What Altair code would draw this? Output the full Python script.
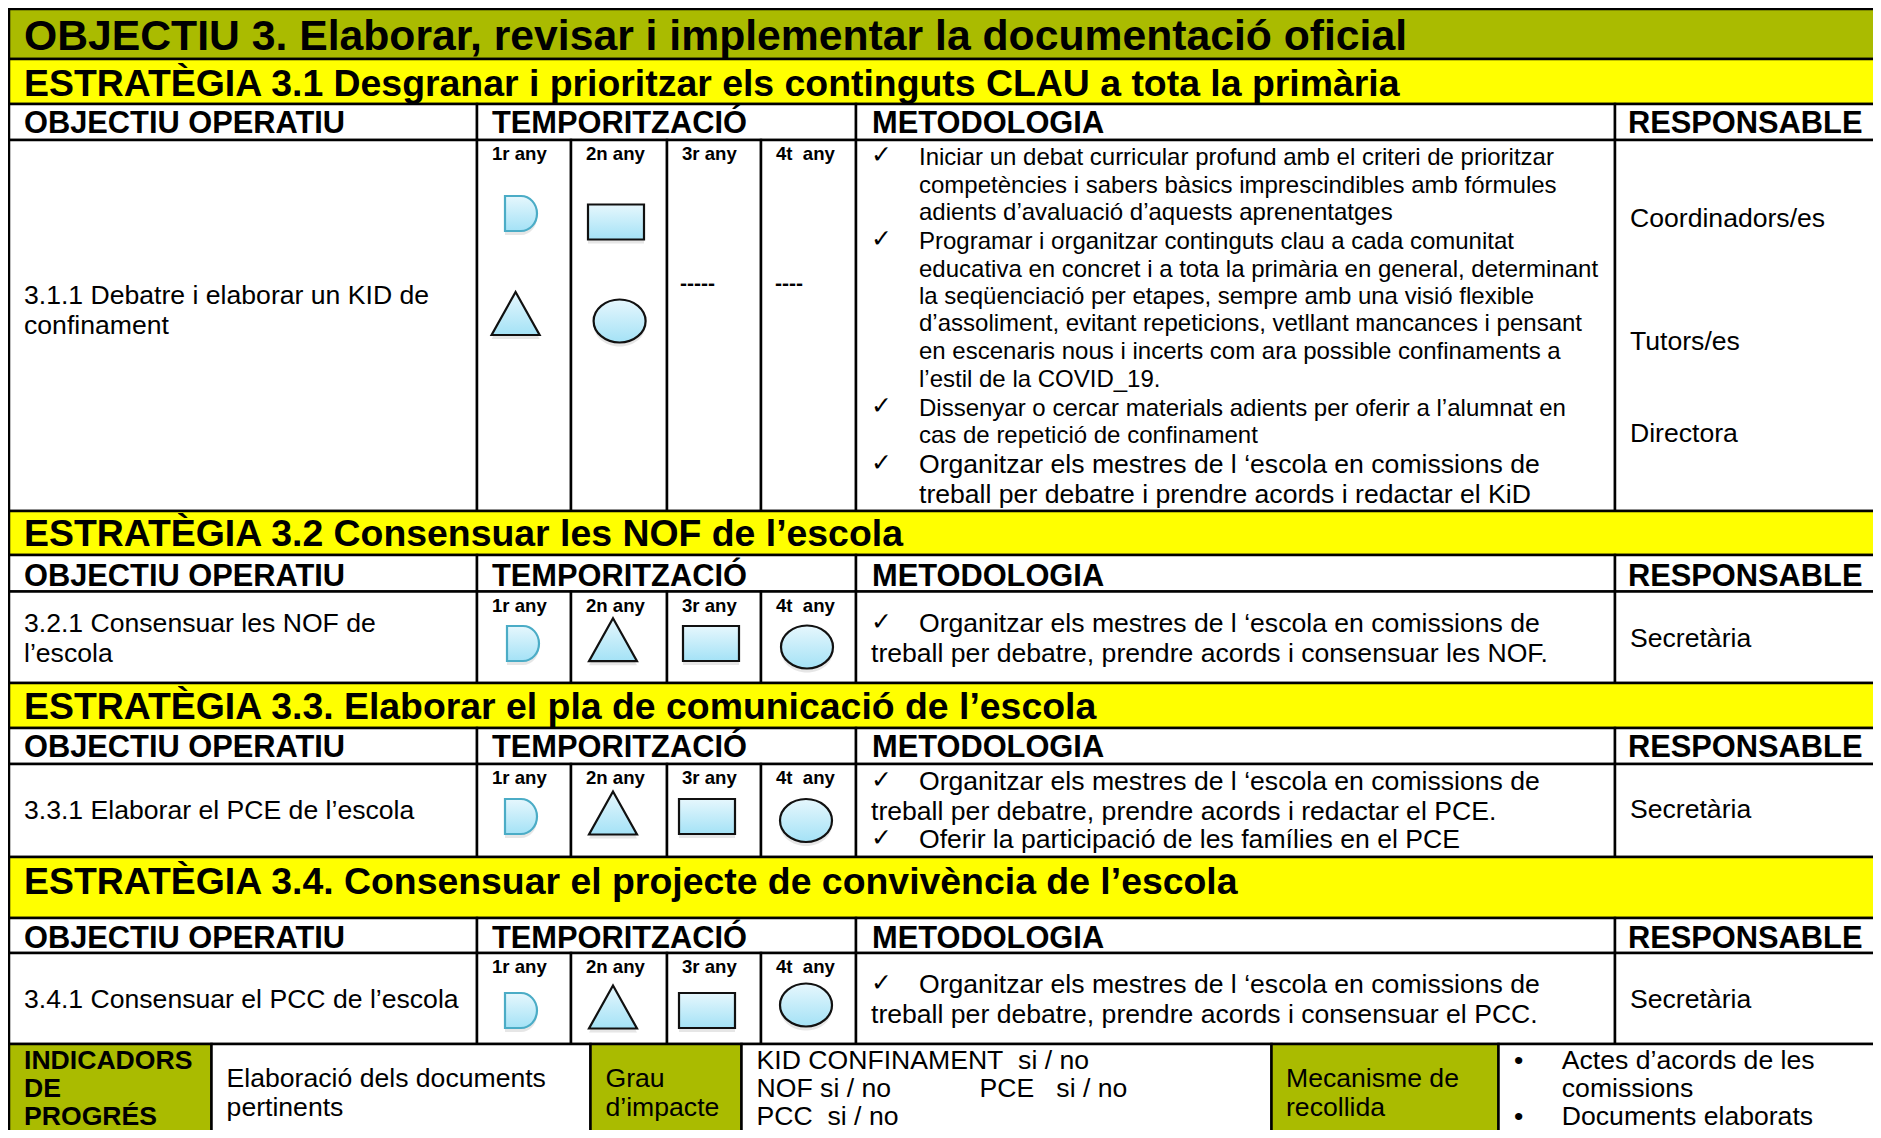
import altair as alt
import pandas as pd

NB = "\u00a0"

# ---------------- content ----------------
TITLE = "OBJECTIU 3. Elaborar, revisar i implementar la documentació oficial"
STRATEGIES = [
    "ESTRATÈGIA 3.1 Desgranar i prioritzar els continguts CLAU a tota la primària",
    "ESTRATÈGIA 3.2 Consensuar les NOF de l’escola",
    "ESTRATÈGIA 3.3. Elaborar el pla de comunicació de l’escola",
    "ESTRATÈGIA 3.4. Consensuar el projecte de convivència de l’escola",
]
HEADERS = ["OBJECTIU OPERATIU", "TEMPORITZACIÓ", "METODOLOGIA", "RESPONSABLE"]
YEARS = ["1r any", "2n any", "3r any", "4t" + NB + NB + "any"]
OBJECTIVES = [
    ["3.1.1 Debatre i elaborar un KID de", "confinament"],
    ["3.2.1 Consensuar les NOF de", "l’escola"],
    ["3.3.1 Elaborar el PCE de l’escola"],
    ["3.4.1 Consensuar el PCC de l’escola"],
]
# (text, starts with a check mark, large font)
METHOD_311 = [
    ("Iniciar un debat curricular profund amb el criteri de prioritzar", True, False),
    ("competències i sabers bàsics imprescindibles amb fórmules", False, False),
    ("adients d’avaluació d’aquests aprenentatges", False, False),
    ("Programar i organitzar continguts clau a cada comunitat", True, False),
    ("educativa en concret i a tota la primària en general, determinant", False, False),
    ("la seqüenciació per etapes, sempre amb una visió flexible", False, False),
    ("d’assoliment, evitant repeticions, vetllant mancances i pensant", False, False),
    ("en escenaris nous i incerts com ara possible confinaments a", False, False),
    ("l’estil de la COVID_19.", False, False),
    ("Dissenyar o cercar materials adients per oferir a l’alumnat en", True, False),
    ("cas de repetició de confinament", False, False),
    ("Organitzar els mestres de l ‘escola en comissions de", True, True),
    ("treball per debatre i prendre acords i redactar el KiD", False, True),
]
METHOD_321 = [
    ("Organitzar els mestres de l ‘escola en comissions de", True),
    ("treball per debatre, prendre acords i consensuar les NOF.", False),
]
METHOD_331 = [
    ("Organitzar els mestres de l ‘escola en comissions de", True),
    ("treball per debatre, prendre acords i redactar el PCE.", False),
    ("Oferir la participació de les famílies en el PCE", True),
]
METHOD_341 = [
    ("Organitzar els mestres de l ‘escola en comissions de", True),
    ("treball per debatre, prendre acords i consensuar el PCC.", False),
]
RESP_311 = ["Coordinadors/es", "Tutors/es", "Directora"]
RESP_OTHER = ["Secretària", "Secretària", "Secretària"]
SCHED_311 = ["D", "tri", "rect", "ell"]
SCHED_311_DASH = ["-----", "----"]
SCHED_OTHER = ["D", "tri", "rect", "ell"]
IND_LABEL = ["INDICADORS", "DE", "PROGRÉS"]
IND_TEXT = ["Elaboració dels documents", "pertinents"]
IMPACT_LABEL = ["Grau", "d’impacte"]
IMPACT_TEXT = ["KID CONFINAMENT" + NB + NB + "si / no", "NOF si / no", "PCC" + NB + NB + "si / no"]
IMPACT_TEXT2 = "PCE" + NB + NB + NB + "si / no"
MECH_LABEL = ["Mecanisme de", "recollida"]
MECH_TEXT = ["Actes d’acords de les", "comissions", "Documents elaborats"]

# ---------------- layout (page pixels) ----------------
W, H = 1865, 1122
OLIVE = "#AABB00"
YELLOW = "#FFFF00"
FONT = "Liberation Sans"
F_TITLE, F_STRAT, F_HEAD, F_BODY, F_METH, F_YEAR = 42.7, 37.4, 30.8, 26.6, 24.0, 18.6
ROW_EDGES = [9, 59, 104, 140, 511, 555, 591.5, 683, 728, 764, 857, 918, 953, 1044, 1170]
ROW_KINDS = ["title", "strat", "head", "body", "strat", "head", "body",
             "strat", "head", "body", "strat", "head", "body", "ind"]
COL_EDGES = [9, 477, 571, 667, 761, 856, 1615, 1900]
IND_EDGES = [9, 211.5, 590.5, 741.5, 1271.5, 1498.5, 1900]
IND_FILLS = [OLIVE, "white", OLIVE, "white", OLIVE, "white"]
STRAT_BASE = [95.5, 546, 719, 893.5]
HEAD_BASE = [133.4, 586, 757, 948]
HEAD_X = [24, 492, 872, 1628]
BODY_TOPS = [140, 591.5, 764, 953]
OBJ_BASE = [[303.6, 334], [631.7, 662], [819], [1008]]
RESP_BASE_311 = [227, 350, 442]
RESP_BASE = [646.7, 818, 1008]
METH_311_BASE = [165, 193, 220, 249, 277, 304, 331, 359, 387, 416, 443, 473, 502.5]
METH_BASE = [[631.7, 661.7], [790, 820, 848], [993, 1023]]
IND3_BASE = [1069, 1097, 1125]
IND2_BASE = [1087, 1116]
SHAPES_311 = [(521, 213.5), (515.6, 313.5), (616, 222), (619.6, 321)]
SHAPES_ROWS = [
    [(523, 643.5), (613, 639.7), (711, 643.5), (807, 647)],
    [(521, 816.5), (613, 813), (707, 816.5), (806, 820.5)],
    [(521, 1010.5), (613, 1007), (707, 1010.5), (806, 1005)],
]
SHAPE_PATHS = {
    "D": "M-16,-17.5 L0,-17.5 A16,17.5 0 0 1 0,17.5 L-16,17.5 Z",
    "tri": "M0,-21.5 L24,21.5 L-24,21.5 Z",
    "rect": "M-28,-17.5 L28,-17.5 L28,17.5 L-28,17.5 Z",
    "ell": "M-26,0 A26,21.5 0 1 1 26,0 A26,21.5 0 1 1 -26,0 Z",
}
SHAPE_STROKES = {"D": "#4BACC6", "tri": "#111111", "rect": "#111111", "ell": "#111111"}

# ---------------- build tables ----------------
rects = []
for i, kind in enumerate(ROW_KINDS):
    t, b = ROW_EDGES[i], ROW_EDGES[i + 1]
    if kind == "title":
        rects.append((COL_EDGES[0], COL_EDGES[-1], t, b, OLIVE))
    elif kind == "strat":
        rects.append((COL_EDGES[0], COL_EDGES[-1], t, b, YELLOW))
    elif kind == "head":
        for a, c in [(0, 1), (1, 5), (5, 6), (6, 7)]:
            rects.append((COL_EDGES[a], COL_EDGES[c], t, b, "white"))
    elif kind == "body":
        for a in range(len(COL_EDGES) - 1):
            rects.append((COL_EDGES[a], COL_EDGES[a + 1], t, b, "white"))
    else:
        for a in range(len(IND_EDGES) - 1):
            rects.append((IND_EDGES[a], IND_EDGES[a + 1], t, b, IND_FILLS[a]))
rect_df = pd.DataFrame(rects, columns=["x", "x2", "y", "y2", "fill"])

bold, regular, checks = [], [], []
bold.append((24, 50, TITLE, F_TITLE))
for s, yb in zip(STRATEGIES, STRAT_BASE):
    bold.append((24, yb, s, F_STRAT))
for yb in HEAD_BASE:
    for hx, h in zip(HEAD_X, HEADERS):
        bold.append((hx, yb, h, F_HEAD))
for top in BODY_TOPS:
    for k, yr in enumerate(YEARS):
        bold.append((COL_EDGES[1 + k] + 15, top + 20, yr, F_YEAR))
bold.append((680, 290, SCHED_311_DASH[0], 21))
bold.append((775, 290, SCHED_311_DASH[1], 21))
for lines, bases in zip(OBJECTIVES, OBJ_BASE):
    for ln, yb in zip(lines, bases):
        regular.append((24, yb, ln, F_BODY))
for (txt, chk, big), yb in zip(METHOD_311, METH_311_BASE):
    regular.append((919, yb, txt, F_BODY if big else F_METH))
    if chk:
        checks.append((871, yb - 2, "✓", 25))
for meth, bases in zip([METHOD_321, METHOD_331, METHOD_341], METH_BASE):
    for (txt, chk), yb in zip(meth, bases):
        regular.append((919 if chk else 871, yb, txt, F_BODY))
        if chk:
            checks.append((871, yb - 2, "✓", 25))
for r, yb in zip(RESP_311, RESP_BASE_311):
    regular.append((1630, yb, r, F_BODY))
for r, yb in zip(RESP_OTHER, RESP_BASE):
    regular.append((1630, yb, r, F_BODY))
for t, yb in zip(IND_LABEL, IND3_BASE):
    bold.append((24, yb, t, 26.6))
for t, yb in zip(IND_TEXT, IND2_BASE):
    regular.append((226.6, yb, t, F_BODY))
for t, yb in zip(IMPACT_LABEL, IND2_BASE):
    regular.append((605.5, yb, t, F_BODY))
for t, yb in zip(IMPACT_TEXT, IND3_BASE):
    regular.append((756.6, yb, t, F_BODY))
regular.append((979.5, IND3_BASE[1], IMPACT_TEXT2, F_BODY))
for t, yb in zip(MECH_LABEL, IND2_BASE):
    regular.append((1286, yb, t, F_BODY))
for t, yb in zip(MECH_TEXT, IND3_BASE):
    regular.append((1561.8, yb, t, F_BODY))
regular.append((1514, IND3_BASE[0], "•", F_BODY))
regular.append((1514, IND3_BASE[2], "•", F_BODY))

bold_df = pd.DataFrame(bold, columns=["x", "y", "t", "s"])
reg_df = pd.DataFrame(regular, columns=["x", "y", "t", "s"])
chk_df = pd.DataFrame(checks, columns=["x", "y", "t", "s"])

shapes = []
for kind, (sx, sy) in zip(SCHED_311, SHAPES_311):
    shapes.append((sx, sy, kind))
for row in SHAPES_ROWS:
    for kind, (sx, sy) in zip(SCHED_OTHER, row):
        shapes.append((sx, sy, kind))
shape_df = pd.DataFrame(shapes, columns=["x", "y", "kind"])

# ---------------- chart ----------------
xs = alt.Scale(domain=[8, 8 + W], zero=False, nice=False)
ys = alt.Scale(domain=[8, 8 + H], zero=False, nice=False, reverse=True)


def X(f):
    return alt.X(f, type="quantitative", scale=xs, axis=None)


def Y(f):
    return alt.Y(f, type="quantitative", scale=ys, axis=None)


cells = alt.Chart(rect_df).mark_rect(stroke="black", strokeWidth=2.5, clip=True).encode(
    x=X("x"), x2="x2", y=Y("y"), y2="y2", fill=alt.Fill("fill:N", scale=None)
)

kinds = list(SHAPE_PATHS.keys())
shape_scale = alt.Scale(domain=kinds, range=[SHAPE_PATHS[k] for k in kinds])
stroke_scale = alt.Scale(domain=kinds, range=[SHAPE_STROKES[k] for k in kinds])
grad = {
    "gradient": "linear", "x1": 0, "y1": 0, "x2": 0, "y2": 1,
    "stops": [{"offset": 0, "color": "#E6F7FD"}, {"offset": 1, "color": "#A4E2F6"}],
}
shadow = alt.Chart(shape_df).mark_point(filled=True, fill="#777777", opacity=0.18, strokeWidth=0).encode(
    x=X("x"), y=Y("y"), yOffset=alt.value(4),
    shape=alt.Shape("kind:N", scale=shape_scale, legend=None), size=alt.value(4),
)
symbols = alt.Chart(shape_df).mark_point(filled=True, fill=grad, opacity=1, strokeWidth=2.2).encode(
    x=X("x"), y=Y("y"),
    shape=alt.Shape("kind:N", scale=shape_scale, legend=None),
    stroke=alt.Stroke("kind:N", scale=stroke_scale, legend=None),
    size=alt.value(4),
)


def texts(df, weight, font=FONT):
    return alt.Chart(df).mark_text(
        align="left", baseline="alphabetic", font=font, fontWeight=weight, color="black"
    ).encode(x=X("x"), y=Y("y"), text="t:N", size=alt.Size("s:Q", scale=None))


chart = alt.layer(
    cells, shadow, symbols, texts(bold_df, "bold"), texts(reg_df, "normal"),
    texts(chk_df, "normal", "DejaVu Sans"),
).properties(
    width=W, height=H, autosize="none", padding=0
).configure_view(strokeWidth=0)

chart.save("out.html", embed_options={"renderer": "svg", "actions": False})
